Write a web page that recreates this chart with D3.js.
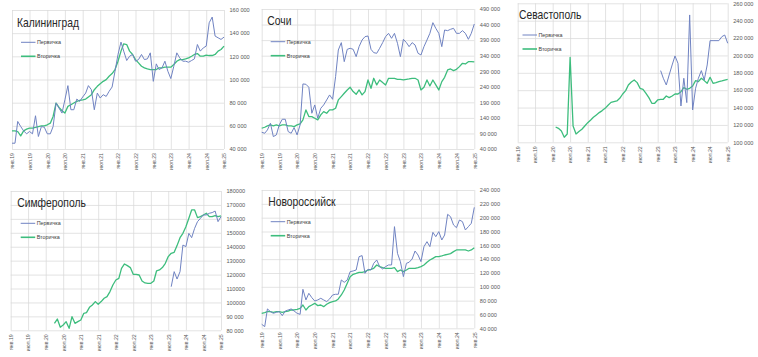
<!DOCTYPE html>
<html><head><meta charset="utf-8">
<script src="https://cdn.jsdelivr.net/npm/d3@7/dist/d3.min.js"></script>
<style>
html,body{margin:0;padding:0;background:#fff;}
svg{display:block;font-family:"Liberation Sans",Arial,sans-serif;}
</style></head>
<body><svg id="c" width="758" height="357"></svg>
<script>
// ---------- DATA (values in thousand rubles, monthly Jan 2019 .. Jan 2025) ----------
const startMonth = "2019-01-01";
const endMonth = "2025-01-01";
const xTickLabels = ["янв.19","июл.19","янв.20","июл.20","янв.21","июл.21","янв.22","июл.22","янв.23","июл.23","янв.24","июл.24","янв.25"];
const seriesNames = ["Первичка","Вторичка"];

const kalPrimary = [45.0,45.0,63.8,59.4,55.7,53.1,55.1,53.1,68.7,50.8,59.4,58.8,
53.1,53.1,59.4,79.7,75.3,71.0,82.5,94.7,73.9,73.9,83.1,81.1,
84.9,88.3,94.7,91.2,73.9,88.3,84.0,86.9,85.4,89.8,93.5,107.1,
121.6,132.3,124.5,116.4,120.1,121.6,115.8,117.2,121.6,117.2,117.8,123.0,
98.4,113.5,108.6,110.0,115.8,107.1,100.8,111.4,123.0,118.7,115.8,115.8,
114.9,116.4,117.8,130.2,124.5,127.3,128.8,149.0,153.9,137.5,136.0,134.6,
136.6];
const kalSecondary = [55.7,55.7,55.1,51.3,55.7,57.1,58.0,58.0,58.6,59.4,60.0,60.0,
60.9,62.3,68.1,79.7,75.9,73.0,71.0,76.8,78.2,79.7,81.1,82.0,
82.5,83.1,84.9,86.9,91.2,94.1,96.4,98.4,99.9,102.8,105.1,108.6,
115.8,124.5,130.8,130.2,124.5,121.6,117.2,114.3,111.4,110.0,109.1,108.6,
108.6,108.6,110.0,110.0,110.6,110.6,110.6,112.9,115.8,117.2,117.2,117.8,
118.7,120.1,121.6,122.4,120.1,120.1,121.0,120.7,120.7,121.6,124.5,125.9,
128.8];

const sochiPrimary = [93.8,90.6,101.3,122.8,79.9,85.3,117.4,135.6,135.6,96.0,90.6,108.8,
85.3,117.4,249.1,248.0,238.4,154.9,181.6,138.8,170.9,181.6,197.7,213.8,
199.8,272.6,358.3,381.9,320.8,360.4,363.7,360.4,336.9,369.0,390.4,401.1,
403.3,360.4,349.7,347.6,363.7,381.9,401.1,411.8,395.8,411.8,379.7,336.9,
392.6,381.9,369.0,381.9,374.4,347.6,342.2,369.0,390.4,411.8,446.1,427.9,
411.8,369.0,422.5,420.4,424.7,427.9,411.8,411.8,420.4,411.8,392.6,411.8,
441.8];
const sochiSecondary = [106.7,109.9,114.2,117.4,114.2,117.4,114.2,117.4,117.4,114.2,114.2,112.0,
117.4,120.6,133.5,165.6,144.2,144.2,138.8,133.5,149.5,160.2,154.9,165.6,
165.6,170.9,197.7,208.4,219.1,229.8,238.4,224.5,215.9,229.8,213.8,224.5,
261.9,235.2,267.3,245.9,261.9,253.4,245.9,267.3,267.3,267.3,264.1,264.1,
261.9,264.1,265.2,267.3,267.3,261.9,229.8,238.4,261.9,242.7,261.9,245.9,
229.8,256.6,270.5,294.1,297.3,291.9,296.2,304.8,315.5,313.3,320.8,320.8,
319.8];

const sevPrimary = [null,null,null,null,null,null,null,null,null,null,null,null,
null,null,null,null,null,null,null,null,null,null,null,null,
null,null,null,null,null,null,null,null,null,null,null,null,
null,null,null,null,null,null,null,null,null,null,null,null,
null,182.5,173.7,166.0,177.5,189.0,199.4,190.9,141.8,173.7,145.7,246.6,
137.2,162.2,173.7,182.5,171.7,189.0,217.0,217.0,217.0,217.0,221.6,223.5,
214.0];
const sevSecondary = [null,null,null,null,null,null,null,null,null,null,null,null,
null,117.6,116.1,113.0,105.8,109.6,197.8,118.8,109.6,112.3,115.0,118.8,
122.6,125.7,128.8,131.5,134.2,136.5,139.1,142.6,146.0,146.8,147.6,150.6,
155.6,159.5,166.0,169.4,171.7,168.7,162.2,161.0,156.4,151.4,144.9,144.9,
148.7,149.5,149.5,153.3,151.4,153.3,155.6,155.6,158.3,162.9,161.0,162.2,
164.8,171.0,169.8,173.7,171.0,167.9,174.8,167.9,168.7,169.8,170.6,171.7,
172.5];

const simPrimary = [null,null,null,null,null,null,null,null,null,null,null,null,
null,null,null,null,null,null,null,null,null,null,null,null,
null,null,null,null,null,null,null,null,null,null,null,null,
null,null,null,null,null,null,null,null,null,null,null,null,
null,null,null,null,null,null,null,111.3,122.1,116.8,122.1,141.2,
140.1,149.6,146.5,153.2,158.0,160.4,162.8,162.8,164.0,164.5,165.6,158.0,
161.6];
const simSecondary = [null,null,null,null,null,null,null,null,null,null,null,null,
null,null,null,85.0,88.1,82.2,83.8,86.2,81.4,89.8,85.0,86.2,
87.4,92.2,92.7,96.5,98.2,100.6,98.7,100.6,103.0,104.2,107.8,112.5,
116.1,117.3,124.5,127.6,126.4,125.0,120.2,120.2,119.7,115.4,114.0,113.7,
113.7,115.4,122.6,123.3,125.0,128.1,132.9,135.3,136.0,140.8,146.5,149.6,
154.4,160.4,166.4,166.4,160.9,161.6,162.8,164.0,161.6,161.6,162.3,161.6,
162.1];

const novPrimary = [45.8,42.4,68.0,64.1,61.7,63.1,64.1,58.3,65.0,66.5,68.0,65.0,
61.7,60.2,96.4,81.0,90.6,84.3,79.5,81.0,83.4,81.0,78.6,82.4,
88.2,89.2,89.2,109.9,106.5,109.9,121.9,122.9,124.3,143.6,145.1,119.5,
125.3,124.3,134.0,138.8,129.2,125.8,129.2,131.6,131.6,187.0,148.4,136.4,
114.7,134.0,135.5,140.2,151.8,146.0,136.4,158.1,165.3,158.1,178.8,172.5,
179.8,167.7,174.9,204.8,201.4,189.4,185.5,196.6,194.2,182.2,187.0,191.8,
214.9];
const novSecondary = [61.7,62.7,64.1,64.1,63.1,64.1,64.1,63.1,64.1,65.0,66.5,66.5,
67.5,68.9,73.7,66.5,71.3,73.7,76.1,72.8,73.7,71.3,74.7,77.1,
78.6,79.5,82.4,88.2,95.4,105.1,114.7,118.1,119.5,121.0,121.0,121.9,
124.3,125.3,126.8,131.6,129.2,127.7,126.8,126.8,126.8,127.7,121.9,124.3,
121.9,124.3,126.8,126.8,126.8,127.7,129.2,131.6,135.5,138.8,141.2,143.6,
143.6,144.6,146.0,147.0,148.0,150.9,153.3,153.3,153.3,153.3,151.8,153.3,
156.6];

const kalTicks = [40,60,80,100,120,140,160];
const kalTickLabels = ["40 000","60 000","80 000","100 000","120 000","140 000","160 000"];
const sochiTicks = [40,90,140,190,240,290,340,390,440,490];
const sochiTickLabels = ["40 000","90 000","140 000","190 000","240 000","290 000","340 000","390 000","440 000","490 000"];
const sevTicks = [100,120,140,160,180,200,220,240,260];
const sevTickLabels = ["100 000","120 000","140 000","160 000","180 000","200 000","220 000","240 000","260 000"];
const simTicks = [80,90,100,110,120,130,140,150,160,170,180];
const simTickLabels = ["80 000","90 000","100000","110000","120000","130000","140000","150000","160000","170000","180000"];
const novTicks = [40,60,80,100,120,140,160,180,200,220,240];
const novTickLabels = ["40 000","60 000","80 000","100 000","120 000","140 000","160 000","180 000","200 000","220 000","240 000"];

// ---------- LAYOUT ----------
const colPrimary = "#7083c2";
const colSecondary = "#3dbd7d";
const panels = [
  {title:"Калининград", p:kalPrimary, s:kalSecondary, ticks:kalTicks, labels:kalTickLabels,
   L:12, R:224, T:10, B:149, tx:17, ty:27, lx:21, ly:42.3},
  {title:"Сочи", p:sochiPrimary, s:sochiSecondary, ticks:sochiTicks, labels:sochiTickLabels,
   L:261.7, R:474.3, T:9, B:149, tx:267.3, ty:25, lx:270.7, ly:41.7},
  {title:"Севастополь", p:sevPrimary, s:sevSecondary, ticks:sevTicks, labels:sevTickLabels,
   L:517.7, R:727.7, T:3.3, B:142.3, tx:519, ty:19.3, lx:522.5, ly:35},
  {title:"Симферополь", p:simPrimary, s:simSecondary, ticks:simTicks, labels:simTickLabels,
   L:10.7, R:221, T:191, B:330.3, tx:17.3, ty:207.3, lx:20.7, ly:223.3},
  {title:"Новороссийск", p:novPrimary, s:novSecondary, ticks:novTicks, labels:novTickLabels,
   L:261.7, R:474.3, T:190, B:328.3, tx:268.3, ty:205.7, lx:270.7, ly:221.7}
];

const svg = d3.select("#c");
svg.append("rect").attr("width",758).attr("height",357).attr("fill","#fff");

const t0 = new Date(startMonth + "T00:00:00"), t1 = new Date(endMonth + "T00:00:00");
const months = d3.timeMonth.range(t0, d3.timeMonth.offset(t1,1));
const xTickDates = d3.timeMonth.every(6).range(t0, d3.timeMonth.offset(t1,1));

panels.forEach(cfg => {
  const g = svg.append("g");
  const x = d3.scaleTime().domain([t0,t1]).range([cfg.L,cfg.R]);
  const y = d3.scaleLinear().domain([cfg.ticks[0], cfg.ticks[cfg.ticks.length-1]]).range([cfg.B,cfg.T]);

  // horizontal grid
  g.append("g").attr("transform",`translate(${cfg.L},0)`)
    .call(d3.axisLeft(y).tickValues(cfg.ticks).tickSize(-(cfg.R-cfg.L)).tickFormat(""))
    .call(a=>a.select(".domain").remove())
    .call(a=>a.selectAll("line").attr("stroke","#d9d9d9").attr("stroke-width",0.75));
  // vertical grid
  g.append("g").attr("transform",`translate(0,${cfg.B})`)
    .call(d3.axisTop(x).tickValues(xTickDates).tickSize(cfg.B-cfg.T).tickFormat(""))
    .call(a=>a.select(".domain").remove())
    .call(a=>a.selectAll("line").attr("stroke","#d9d9d9").attr("stroke-width",0.75));

  // right y axis labels
  g.append("g").attr("transform",`translate(${cfg.R},0)`)
    .call(d3.axisRight(y).tickValues(cfg.ticks).tickSize(0).tickPadding(5.5)
      .tickFormat((d,i)=>cfg.labels[i]))
    .call(a=>a.select(".domain").remove())
    .call(a=>a.selectAll("text").attr("fill","#595959").attr("font-size","5.6px")
      .attr("font-family","'Liberation Sans',Arial,sans-serif"));

  // bottom x axis labels (rotated)
  g.append("g").attr("transform",`translate(0,${cfg.B})`)
    .call(d3.axisBottom(x).tickValues(xTickDates).tickSize(0).tickFormat((d,i)=>xTickLabels[i]))
    .call(a=>a.select(".domain").remove())
    .call(a=>a.selectAll("text").attr("fill","#595959").attr("font-size","5.2px")
      .attr("font-family","'Liberation Sans',Arial,sans-serif")
      .attr("y",0).attr("x",-4).attr("dy","0.35em")
      .attr("transform","rotate(-90)").attr("text-anchor","end"));

  const line = d3.line().defined(d=>d.v!=null).x(d=>x(d.t)).y(d=>y(d.v));
  const toPts = arr => arr.map((v,i)=>({t:months[i], v:v}));

  g.append("path").datum(toPts(cfg.s)).attr("d",line)
    .attr("fill","none").attr("stroke",colSecondary).attr("stroke-width",1.3).attr("stroke-linejoin","round");
  g.append("path").datum(toPts(cfg.p)).attr("d",line)
    .attr("fill","none").attr("stroke",colPrimary).attr("stroke-width",1.0).attr("stroke-linejoin","round");

  // title
  g.append("text").attr("transform",`translate(${cfg.tx},${cfg.ty}) scale(0.86,1)`)
    .attr("font-size","12px").attr("fill","#262626").text(cfg.title);

  // legend
  const cols = [colPrimary, colSecondary];
  const widths = [1.0, 1.6];
  seriesNames.forEach((n,i)=>{
    const yy = cfg.ly + i*14;
    g.append("line").attr("x1",cfg.lx).attr("x2",cfg.lx+14.5).attr("y1",yy).attr("y2",yy)
      .attr("stroke",cols[i]).attr("stroke-width",widths[i]);
    g.append("text").attr("transform",`translate(${cfg.lx+16},${yy}) scale(0.9,1)`)
      .attr("dy","0.35em").attr("font-size","6px").attr("fill","#404040").text(n);
  });
});
</script></body></html>
